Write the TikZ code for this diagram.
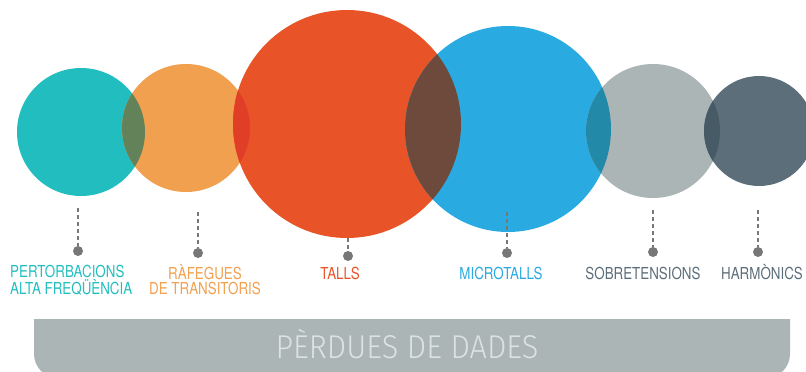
\documentclass[tikz,border=0pt]{standalone}
\usepackage{fontspec}
\setmainfont{TeX Gyre Heros}[FakeStretch=0.81]
\newfontfamily\thinfont{Fira Sans Light}[FakeStretch=0.93]
\usetikzlibrary{positioning}
\definecolor{cteal}{HTML}{22BEBF}
\definecolor{corange}{HTML}{F0A04F}
\definecolor{cred}{HTML}{E85427}
\definecolor{cblue}{HTML}{29AAE1}
\definecolor{cgrey}{HTML}{ABB5B5}
\definecolor{cslate}{HTML}{5C6E7A}
\definecolor{lensto}{HTML}{63825A}
\definecolor{lensor}{HTML}{E03E26}
\definecolor{lensrb}{HTML}{6E4A3C}
\definecolor{lensbg}{HTML}{2289A8}
\definecolor{lensgs}{HTML}{465B66}
\definecolor{stemgrey}{HTML}{777777}
\definecolor{barfill}{HTML}{ABB5B5}
\definecolor{bartext}{HTML}{DCE2E2}
\tikzset{
  blob/.style={circle, inner sep=0pt, minimum size=#1},
  stem/.style={draw=stemgrey, line width=1.4pt, dash pattern=on 4pt off 3pt},
  pin/.style={circle, fill=stemgrey, inner sep=0pt, minimum size=10pt},
  tag/.style={font=\fontsize{16.5}{15}\selectfont, anchor=base, inner sep=0pt}
}

\begin{document}
\begin{tikzpicture}[x=1pt,y=-1pt]
  \useasboundingbox (0,0) rectangle (806,372);
  \clip (0,0) rectangle (806,372);

  % circles
  \node[blob=128pt, fill=cteal] (pert) at (81,132) {};
  \node[blob=128pt, fill=corange] (rafe) at (186,128) {};
  \node[blob=228pt, fill=cred] (talls) at (347,124) {};
  \node[blob=206pt, fill=cblue] (micro) at (508,129) {};
  \node[blob=134pt, fill=cgrey] (sobre) at (653,131) {};
  \node[blob=110pt, fill=cslate] (harm) at (759,131) {};

  % overlaps
  \begin{scope}
    \clip (pert.center) circle (64pt);
    \fill[lensto] (rafe.center) circle (64pt);
  \end{scope}
  \begin{scope}
    \clip (rafe.center) circle (64pt);
    \fill[lensor] (talls.center) circle (114pt);
  \end{scope}
  \begin{scope}
    \clip (talls.center) circle (114pt);
    \fill[lensrb] (micro.center) circle (103pt);
  \end{scope}
  \begin{scope}
    \clip (micro.center) circle (103pt);
    \fill[lensbg] (sobre.center) circle (67pt);
  \end{scope}
  \begin{scope}
    \clip (sobre.center) circle (67pt);
    \fill[lensgs] (harm.center) circle (55pt);
  \end{scope}

  % pins
  \coordinate (pertTop) at (78,208);
  \coordinate (rafeTop) at (198,212);
  \coordinate (tallsTop) at (348,238);
  \coordinate (microTop) at (507,212);
  \coordinate (sobreTop) at (653,210);
  \coordinate (harmTop) at (758,210);
  \node[pin] (pertPin) at (78,251) {};
  \node[pin] (rafePin) at (198,253) {};
  \node[pin] (tallsPin) at (348,256) {};
  \node[pin] (microPin) at (507,253) {};
  \node[pin] (sobrePin) at (653,252) {};
  \node[pin] (harmPin) at (758,252) {};
  \draw[stem] (pertTop) -- (pertPin);
  \draw[stem] (rafeTop) -- (rafePin);
  \draw[stem] (tallsTop) -- (tallsPin);
  \draw[stem] (microTop) -- (microPin);
  \draw[stem] (sobreTop) -- (sobrePin);
  \draw[stem] (harmTop) -- (harmPin);

  % labels
  \node[tag, text=cteal, align=left, anchor=base west] (pertLbl) at (10,294) {PERTORBACIONS\\ALTA FREQÜÈNCIA};
  \node[tag, text=corange, align=center] (rafeLbl) at (205,294) {RÀFEGUES\\DE TRANSITORIS};
  \node[tag, text=cred] (tallsLbl) at (340,279) {TALLS};
  \node[tag, text=cblue] (microLbl) at (501,279) {MICROTALLS};
  \node[tag, text=cslate] (sobreLbl) at (643,279) {SOBRETENSIONS};
  \node[tag, text=cslate] (harmLbl) at (762,279) {HARMÒNICS};

  % bar
  \fill[barfill] (34,319) -- (790,319) [rounded corners=24pt] -- (790,378) -- (34,378) [sharp corners] -- cycle;
  \node[text=bartext, font=\thinfont\fontsize{33}{33}\selectfont, inner sep=0pt, anchor=base] (loss) at (407,358) {PÈRDUES DE DADES};
\end{tikzpicture}
\end{document}
